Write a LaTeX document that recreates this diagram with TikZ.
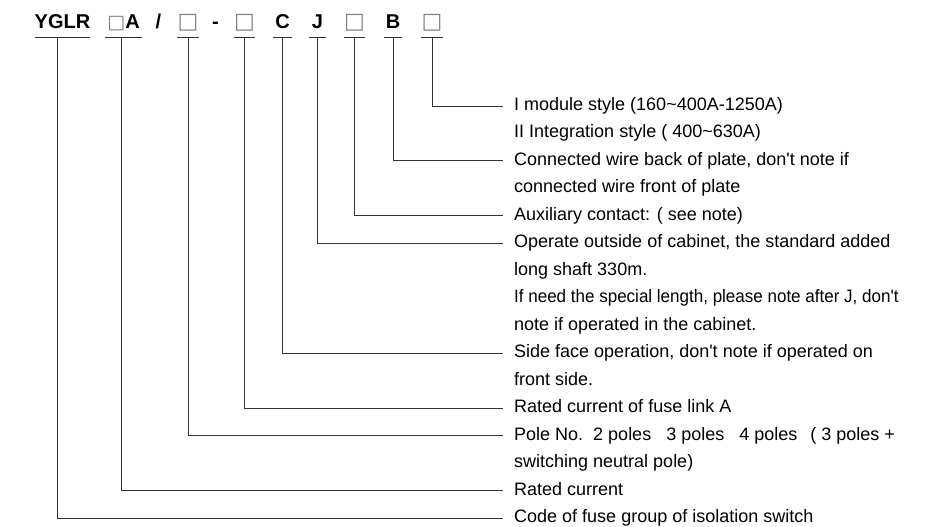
\documentclass[tikz,border=0pt]{standalone}
\usepackage{fontspec}
\setmainfont{Liberation Sans}
\newfontfamily\symfont{DejaVu Sans}
\usetikzlibrary{positioning}

\newcommand{\sq}[1][22]{{\symfont\mdseries\fontsize{#1}{#1}\selectfont\color{black!50}□}}
\newcommand{\q}{\textquotesingle}

\tikzset{
  code/.style={font=\fontsize{20}{20}\selectfont\bfseries, anchor=base,
    inner sep=0pt, text depth=8pt, minimum width=#1},
  code/.default=0pt,
  note/.style={font=\fontsize{18}{18}\selectfont, anchor=north west,
    inner xsep=11pt, inner ysep=0pt, text height=13pt, text depth=4pt},
  under/.style={below=of #1.south west, anchor=north west},
  lead/.style={line width=0.9pt, black!80}
}

\begin{document}
\begin{tikzpicture}[x=1pt,y=-1pt,node distance=10.07pt]
\useasboundingbox (0,0) rectangle (938,527);

% type code
\node[code=53] (cY) at (62.5,29) {YGLR};
\node[code=37] (cA) at (123.5,29) {\sq[19]A};
\node[code] (cSlash) at (158.5,29) {/};
\node[code=18] (cP) at (188,29) {\sq};
\node[code] (cDash) at (215.5,29) {-};
\node[code=17] (cF) at (244.5,29) {\sq};
\node[code=19] (cC) at (282.5,29) {C};
\node[code=17] (cJ) at (317.5,29) {J};
\node[code=17] (cX) at (354.5,29) {\sq};
\node[code=18] (cB) at (393,29) {B};
\node[code=18] (cM) at (432,29) {\sq};

\foreach \c in {cY,cA,cP,cF,cC,cJ,cX,cB,cM}
  \draw[lead] (\c.south west) -- (\c.south east);

% explanations
\node[note, anchor=west] (nMod) at (503,106) {I module style (160\textasciitilde 400A-1250A)};
\node[note, under=nMod] (nMod2) {II Integration style ( 400\textasciitilde 630A)};
\node[note, under=nMod2] (nBack) {Connected wire back of plate, don\q t note if};
\node[note, under=nBack] (nBack2) {connected wire front of plate};
\node[note, under=nBack2] (nAux) {Auxiliary contact: ( see note)};
\node[note, under=nAux] (nOut) {Operate outside of cabinet, the standard added};
\node[note, under=nOut] (nOut2) {long shaft 330m.};
\node[note, under=nOut2] (nOut3) {\scalebox{0.945}[1]{If need the special length, please note after J, don\q t}};
\node[note, under=nOut3] (nOut4) {note if operated in the cabinet.};
\node[note, under=nOut4] (nSide) {Side face operation, don\q t note if operated on};
\node[note, under=nSide] (nSide2) {front side.};
\node[note, under=nSide2] (nFuse) {Rated current of fuse link A};
\node[note, under=nFuse] (nPole) {Pole No.\ \ 2 poles\ \ \ 3 poles\ \ \ 4 poles\ \ \,( 3 poles +};
\node[note, under=nPole] (nPole2) {switching neutral pole)};
\node[note, under=nPole2] (nRated) {Rated current};
\node[note, under=nRated] (nCode) {Code of fuse group of isolation switch};

% leaders
\draw[lead] (cM.south) |- (nMod.west);
\draw[lead] (cB.south) |- (nBack.west);
\draw[lead] (cX.south) |- (nAux.west);
\draw[lead] (cJ.south) |- (nOut.west);
\draw[lead] (cC.south) |- (nSide.west);
\draw[lead] (cF.south) |- (nFuse.west);
\draw[lead] (cP.south) |- (nPole.west);
\draw[lead] ([xshift=-2.5pt]cA.south) |- (nRated.west);
\draw[lead] ([xshift=-5.5pt]cY.south) |- (nCode.west);
\end{tikzpicture}
\end{document}
